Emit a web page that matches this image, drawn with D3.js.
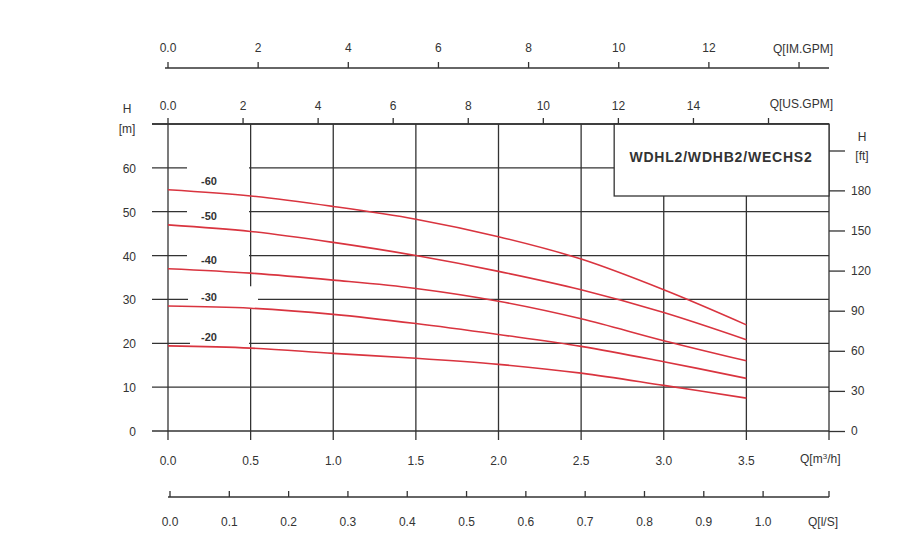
<!DOCTYPE html>
<html><head><meta charset="utf-8">
<script src="https://cdn.jsdelivr.net/npm/d3@7/dist/d3.min.js"></script>
<style>body{margin:0;background:#fff}text{font-family:Arial,"Liberation Sans",sans-serif;fill:#333}</style>
</head><body><svg width="909" height="558"></svg>
<script>
const flows = [0, 0.5, 1.0, 1.5, 2.0, 2.5, 3.0, 3.5];
const models = ['-60', '-50', '-40', '-30', '-20'];
const heads = [
  [55.0, 53.6, 51.2, 48.3, 44.3, 39.2, 32.2, 24.2],
  [47.0, 45.5, 43.0, 40.0, 36.4, 32.2, 27.0, 20.8],
  [37.0, 36.0, 34.4, 32.5, 29.6, 25.6, 20.6, 16.0],
  [28.5, 28.0, 26.6, 24.5, 22.0, 19.3, 15.8, 12.0],
  [19.4, 18.9, 17.7, 16.6, 15.2, 13.2, 10.4, 7.5]
];
const m3hTicks = [0, 0.5, 1.0, 1.5, 2.0, 2.5, 3.0, 3.5];
const mTicks = [0, 10, 20, 30, 40, 50, 60];
const ftTicks = [0, 30, 60, 90, 120, 150, 180];
const usTicks = [0, 2, 4, 6, 8, 10, 12, 14, 16];
const imTicks = [0, 2, 4, 6, 8, 10, 12, 14];
const lsTicks = [0, 0.1, 0.2, 0.3, 0.4, 0.5, 0.6, 0.7, 0.8, 0.9, 1.0];
const title = 'WDHL2/WDHB2/WECHS2';

const svg = d3.select('svg');
const x = d3.scaleLinear().domain([0, 4]).range([168, 829]);
const y = d3.scaleLinear().domain([0, 70]).range([431, 124]);
const g = svg.append('g').attr('stroke', '#333').attr('stroke-width', 1.3);

// horizontal grid with the breaks of the original
const gaps = {60: [187, 249], 50: [187, 249], 40: [187, 249], 30: [188, 258], 20: [190, 249]};
mTicks.forEach(v => {
  const yy = y(v);
  if (gaps[v]) {
    g.append('line').attr('x1', 152).attr('x2', gaps[v][0]).attr('y1', yy).attr('y2', yy);
    g.append('line').attr('x1', gaps[v][1]).attr('x2', 829).attr('y1', yy).attr('y2', yy);
  } else {
    g.append('line').attr('x1', 152).attr('x2', 829).attr('y1', yy).attr('y2', yy);
  }
});
// vertical grid
m3hTicks.forEach(v => {
  const xx = x(v);
  if (v === 0.5) {
    g.append('line').attr('x1', xx).attr('x2', xx).attr('y1', 124).attr('y2', y(33));
    g.append('line').attr('x1', xx).attr('x2', xx).attr('y1', y(28)).attr('y2', 440);
  } else {
    g.append('line').attr('x1', xx).attr('x2', xx).attr('y1', 124).attr('y2', 440);
  }
});
g.append('line').attr('x1', 829).attr('x2', 829).attr('y1', 124).attr('y2', 440);
g.append('line').attr('x1', 152).attr('x2', 829).attr('y1', 124).attr('y2', 124);

// title box
svg.append('rect').attr('x', x(2.7)).attr('y', 124).attr('width', 829 - x(2.7)).attr('height', 72)
  .attr('fill', '#fff').attr('stroke', '#333').attr('stroke-width', 1.3);
svg.append('text').attr('x', 721).attr('y', 162).attr('text-anchor', 'middle')
  .attr('font-size', 14).attr('font-weight', 'bold').attr('letter-spacing', 0.8).text(title);

// curves
const line = d3.line().x((d, i) => x(flows[i])).y(d => y(d)).curve(d3.curveCatmullRom);
heads.forEach((h, k) => {
  svg.append('path').attr('d', line(h)).attr('fill', 'none').attr('stroke', '#d9343f').attr('stroke-width', 1.6);
  svg.append('text').attr('x', x(0.2)).attr('y', y(h[0]) - 5).attr('font-size', 11).attr('font-weight', 'bold').text(models[k]);
});

// left m axis labels
mTicks.forEach(v => svg.append('text').attr('x', 136).attr('y', y(v) + 5).attr('text-anchor', 'end').attr('font-size', 12).text(v));
svg.append('text').attr('x', 127).attr('y', 113).attr('text-anchor', 'middle').attr('font-size', 12).text('H');
svg.append('text').attr('x', 127).attr('y', 133).attr('text-anchor', 'middle').attr('font-size', 12).text('[m]');

// right ft axis
const yft = d3.scaleLinear().domain([0, 70 * 3.2808]).range([431, 124]);
svg.append('g').attr('transform', 'translate(829,0)')
  .call(d3.axisRight(yft).tickValues(ftTicks).tickSize(16).tickPadding(6))
  .call(a => a.select('.domain').remove())
  .call(a => a.selectAll('line').attr('stroke', '#333').attr('stroke-width', 1.3))
  .call(a => a.selectAll('text').attr('font-size', 12).attr('fill', '#333').attr('font-family', 'Arial'));
g.append('line').attr('x1', 829).attr('x2', 845).attr('y1', 151).attr('y2', 151);
svg.append('text').attr('x', 862).attr('y', 141).attr('text-anchor', 'middle').attr('font-size', 12).text('H');
svg.append('text').attr('x', 862).attr('y', 160).attr('text-anchor', 'middle').attr('font-size', 12).text('[ft]');

// bottom m3/h labels
m3hTicks.forEach(v => svg.append('text').attr('x', x(v)).attr('y', 465).attr('text-anchor', 'middle').attr('font-size', 12).text(v.toFixed(1)));
svg.append('text').attr('x', 800).attr('y', 463).attr('font-size', 12).html('Q[m<tspan font-size="8" dy="-4">3</tspan><tspan dy="4">/h]</tspan>');

function topAxis(yy, scale, ticks, x0) {
  svg.append('line').attr('x1', x0).attr('x2', 829).attr('y1', yy).attr('y2', yy).attr('stroke', '#333').attr('stroke-width', 1.3);
  ticks.forEach(v => {
    svg.append('line').attr('x1', scale(v)).attr('x2', scale(v)).attr('y1', yy).attr('y2', yy - 6).attr('stroke', '#333').attr('stroke-width', 1.3);
  });
}
// US GPM
const xus = d3.scaleLinear().domain([0, 4 * 4.4029]).range([168, 829]);
topAxis(124, xus, usTicks, 152);
usTicks.filter(v => v < 16).forEach(v => svg.append('text').attr('x', xus(v)).attr('y', 110).attr('text-anchor', 'middle').attr('font-size', 12).text(v === 0 ? '0.0' : v));
svg.append('text').attr('x', 833).attr('y', 108).attr('text-anchor', 'end').attr('font-size', 12).text('Q[US.GPM]');
// IM GPM
const xim = d3.scaleLinear().domain([0, 4 * 3.6662]).range([168, 829]);
topAxis(68, xim, imTicks, 165);
imTicks.filter(v => v < 14).forEach(v => svg.append('text').attr('x', xim(v)).attr('y', 52).attr('text-anchor', 'middle').attr('font-size', 12).text(v === 0 ? '0.0' : v));
svg.append('text').attr('x', 833).attr('y', 53).attr('text-anchor', 'end').attr('font-size', 12).text('Q[IM.GPM]');
// l/s
const xls = d3.scaleLinear().domain([0, 4 / 3.6]).range([170, 829]);
topAxis(497, xls, lsTicks, 168);
svg.append('line').attr('x1', 829).attr('x2', 829).attr('y1', 497).attr('y2', 491).attr('stroke', '#333').attr('stroke-width', 1.3);
lsTicks.forEach(v => svg.append('text').attr('x', xls(v)).attr('y', 526).attr('text-anchor', 'middle').attr('font-size', 12).text(v.toFixed(1)));
svg.append('text').attr('x', 808).attr('y', 526).attr('font-size', 12).text('Q[l/S]');
</script></body></html>
